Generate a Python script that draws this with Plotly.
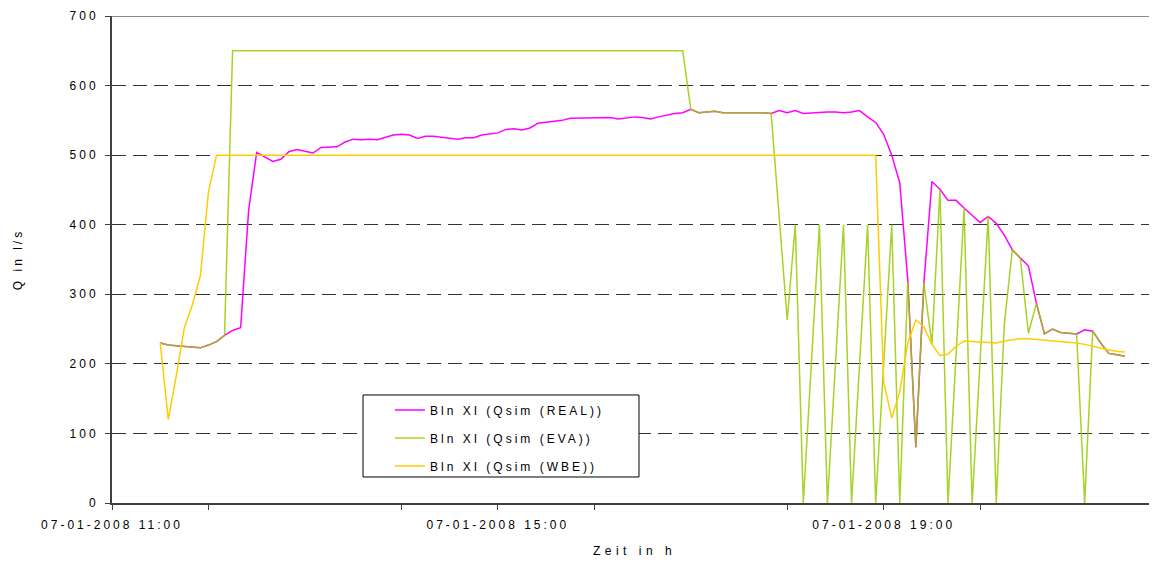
import pandas as pd
import plotly.graph_objects as go

# ---- data (5-minute steps from 07-01-2008 11:30 to 21:30) ----
start_time = "2008-01-07 11:30"
step = "5min"

q_real = [
    230, 227, 226, 225, 223, 223, 227, 232, 241, 248,
    252, 421, 504, 497, 491, 494, 505, 508, 505, 503,
    511, 511, 512, 519, 523, 522, 523, 522, 525, 529,
    530, 529, 524, 527, 527, 526, 524, 523, 525, 525,
    529, 530, 532, 537, 538, 536, 539, 546, 547, 549,
    550, 553, 553, 554, 554, 553, 554, 552, 553, 555,
    554, 552, 555, 558, 560, 561, 566, 561, 562, 563,
    561, 561, 562, 562, 561, 561, 560, 564, 561, 564,
    560, 561, 562, 562, 562, 561, 562, 564, 555, 547,
    530, 500, 460, 320, 80, 316, 462, 451, 435, 435,
    424, 414, 403, 412, 402, 385, 364, 352, 341, 287,
    243, 250, 245, 244, 243, 249, 247, 230, 215, 213,
    211,
]

q_eva = [
    230, 227, 226, 225, 223, 223, 227, 232, 241, 650,
    650, 650, 650, 650, 650, 650, 650, 650, 650, 650,
    650, 650, 650, 650, 650, 650, 650, 650, 650, 650,
    650, 650, 650, 650, 650, 650, 650, 650, 650, 650,
    650, 650, 650, 650, 650, 650, 650, 650, 650, 650,
    650, 650, 650, 650, 650, 650, 650, 650, 650, 650,
    650, 650, 650, 650, 650, 650, 566, 561, 562, 563,
    561, 561, 562, 562, 561, 561, 560, 410, 263, 400,
    0, 200, 400, 0, 200, 400, 0, 200, 400, 0,
    200, 400, 0, 318, 81, 316, 228, 450, 0, 212,
    424, 0, 206, 412, 0, 256, 364, 352, 244, 287,
    243, 250, 245, 244, 243, 0, 247, 230, 215, 213,
    211,
]

q_wbe = [
    230, 120, 183, 252, 285, 327, 447, 500, 500, 500,
    500, 500, 500, 500, 500, 500, 500, 500, 500, 500,
    500, 500, 500, 500, 500, 500, 500, 500, 500, 500,
    500, 500, 500, 500, 500, 500, 500, 500, 500, 500,
    500, 500, 500, 500, 500, 500, 500, 500, 500, 500,
    500, 500, 500, 500, 500, 500, 500, 500, 500, 500,
    500, 500, 500, 500, 500, 500, 500, 500, 500, 500,
    500, 500, 500, 500, 500, 500, 500, 500, 500, 500,
    500, 500, 500, 500, 500, 500, 500, 500, 500, 500,
    174, 122, 160, 230, 263, 253, 228, 212, 214, 225,
    233, 232, 231, 230, 230, 233, 235, 236, 236, 235,
    234, 234, 233, 232, 230, 228, 225, 222, 220, 218,
    217,
]

series_names = ["Bln XI (Qsim (REAL))", "Bln XI (Qsim (EVA))", "Bln XI (Qsim (WBE))"]
series_colors = ["#FF00FF", "#99CC00", "#FFCC00"]

times = pd.date_range(start_time, periods=len(q_real), freq=step)

fig = go.Figure()
for name, vals, col, op in zip(series_names, [q_real, q_eva, q_wbe], series_colors, [1.0, 0.85, 1.0]):
    fig.add_trace(go.Scatter(
        x=times, y=vals, name=name, mode="lines",
        line=dict(color=col, width=1.5), opacity=op,
        legendgroup=name,
    ))

FONT = "Liberation Sans, Arial, sans-serif"
AX = "#404040"

fig.update_layout(
    width=1149, height=555, autosize=False,
    margin=dict(l=104, r=0, t=8, b=60),
    paper_bgcolor="white", plot_bgcolor="white",
    font=dict(family=FONT, size=12, color="black"),
    showlegend=True,
    legend=dict(
        x=0.266, y=0.2208, xanchor="left", yanchor="top",
        bgcolor="rgba(0,0,0,0)", borderwidth=0,
        font=dict(family=FONT, size=12, color="black"),
        tracegroupgap=9,
    ),
    xaxis=dict(
        type="date",
        range=["2008-01-07 11:00", "2008-01-07 21:50"],
        tick0="2008-01-07 11:00", dtick=4 * 3600 * 1000,
        tickformat="%d-%m-%Y %H:%M",
        ticks="outside", ticklen=5, tickcolor=AX, tickwidth=1,
        ticklabelstandoff=5,
        minor=dict(dtick=2 * 3600 * 1000, ticks="outside", ticklen=5, tickcolor=AX, showgrid=False),
        showgrid=False, zeroline=False,
        showline=True, linecolor=AX, linewidth=2,
        title=dict(text="Zeit in h", font=dict(size=12), standoff=15),
        tickfont=dict(size=12),
    ),
    yaxis=dict(
        range=[0, 700], dtick=100, tick0=0,
        ticks="outside", ticklen=5, tickcolor=AX, tickwidth=1,
        ticklabelstandoff=4,
        showgrid=True, gridcolor="#333333", gridwidth=1, griddash="14px,7px",
        zeroline=False,
        showline=True, linecolor=AX, linewidth=2,
        title=dict(text="Q in l/s", font=dict(size=12), standoff=53),
        tickfont=dict(size=12),
    ),
    shapes=[
        dict(type="line", xref="paper", yref="y", x0=0, x1=1, y0=700, y1=700,
             line=dict(color="#8a8a8a", width=2), layer="above"),
        dict(type="rect", xref="paper", yref="paper",
             x0=0.2402, x1=0.5043, y0=0.0534, y1=0.2218,
             fillcolor="white", line=dict(color="black", width=1), layer="above"),
    ],
)

post = """
var s = document.createElement('style');
s.innerHTML = 'svg text { letter-spacing: 3px; } svg text.xtitle { letter-spacing: 4.5px; }';
document.head.appendChild(s);
var gd = document.getElementById('{plot_id}');
gd.querySelectorAll('.legend [clip-path]').forEach(function(e){ e.removeAttribute('clip-path'); });
"""

fig.write_html("out.html", post_script=post)
